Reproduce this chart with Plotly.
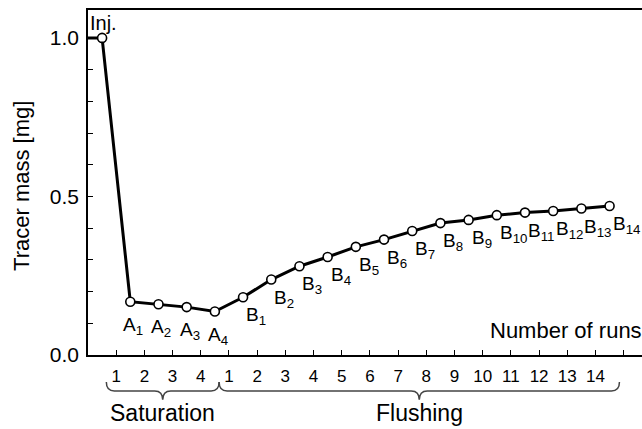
import plotly.graph_objects as go

# ---- data ----
injection_mass = 1.0
saturation_labels = ["A<sub>1</sub>", "A<sub>2</sub>", "A<sub>3</sub>", "A<sub>4</sub>"]
saturation_mass = [0.168, 0.160, 0.151, 0.137]
flushing_labels = ["B<sub>%d</sub>" % i for i in range(1, 15)]
flushing_mass = [0.182, 0.238, 0.280, 0.309, 0.341, 0.364, 0.391, 0.416,
                 0.426, 0.441, 0.449, 0.454, 0.462, 0.470]
sat_ticktext = ["1", "2", "3", "4"]
flush_ticktext = [str(i) for i in range(1, 15)]

# ---- positions on a run-index axis ----
n_sat = len(saturation_mass)
n_fl = len(flushing_mass)
x_inj = 0.5
x_sat = [i + 1.5 for i in range(n_sat)]
x_fl = [n_sat + i + 1.5 for i in range(n_fl)]
XMAX = 19.65
YMAX = 1.088

FONT = "Liberation Sans, Arial, sans-serif"

fig = go.Figure()
# connecting line (starts at the axis)
fig.add_trace(go.Scatter(
    x=[0, x_inj] + x_sat + x_fl,
    y=[injection_mass, injection_mass] + saturation_mass + flushing_mass,
    mode="lines", line=dict(color="black", width=3), hoverinfo="skip",
    showlegend=False, cliponaxis=False))
fig.add_trace(go.Scatter(
    x=[x_inj] + x_sat + x_fl,
    y=[injection_mass] + saturation_mass + flushing_mass,
    mode="markers",
    marker=dict(symbol="circle", size=9, color="white",
                line=dict(color="black", width=1.6)),
    showlegend=False, cliponaxis=False))

ann = []
ann.append(dict(x=x_inj, y=injection_mass, xref="x", yref="y", text="Inj.",
                showarrow=False, xanchor="center", yanchor="bottom",
                xshift=1, yshift=2, font=dict(size=20, color="black", family=FONT)))
for xv, yv, t in zip(x_sat, saturation_mass, saturation_labels):
    ann.append(dict(x=xv, y=yv, xref="x", yref="y", text=t, showarrow=False,
                    xanchor="center", yanchor="top", xshift=3, yshift=-10,
                    font=dict(size=19, color="black", family=FONT)))
for xv, yv, t in zip(x_fl, flushing_mass, flushing_labels):
    ann.append(dict(x=xv, y=yv, xref="x", yref="y", text=t, showarrow=False,
                    xanchor="left", yanchor="top", xshift=1, yshift=-5,
                    font=dict(size=19, color="black", family=FONT)))

ann.append(dict(x=1, y=0.076, xref="paper", yref="y", text="Number of runs",
                showarrow=False, xanchor="right", yanchor="middle", xshift=2,
                font=dict(size=22, color="black", family=FONT)))
ann.append(dict(x=0, y=0.49, xref="paper", yref="paper", text="Tracer mass [mg]",
                showarrow=False, textangle=-90, xanchor="center", yanchor="middle",
                xshift=-66, font=dict(size=22, color="black", family=FONT)))

# braces
sat_l, sat_r = 0.65, n_sat + 0.65
fl_l, fl_r = sat_r, n_sat + n_fl + 0.85
y0, y1, y2 = -0.078, -0.104, -0.130


def brace(xl, xr):
    pl, pr = xl / XMAX, xr / XMAX
    pm = (pl + pr) / 2
    r = 8 / 554
    return (f"M {pl},{y0} Q {pl},{y1} {pl + r},{y1} L {pm - r},{y1} "
            f"Q {pm},{y1} {pm},{y2} Q {pm},{y1} {pm + r},{y1} "
            f"L {pr - r},{y1} Q {pr},{y1} {pr},{y0}")


shapes = [dict(type="path", xref="paper", yref="paper", path=brace(sat_l, sat_r),
               line=dict(color="#444", width=1.5)),
          dict(type="path", xref="paper", yref="paper", path=brace(fl_l, fl_r),
               line=dict(color="#444", width=1.5))]

ann.append(dict(x=(sat_l + sat_r) / 2, y=-0.168, xref="x", yref="paper",
                text="Saturation", showarrow=False, xanchor="center",
                yanchor="middle", font=dict(size=23, color="black", family=FONT)))
ann.append(dict(x=(fl_l + fl_r) / 2, y=-0.168, xref="x", yref="paper",
                text="Flushing", showarrow=False, xanchor="center",
                yanchor="middle", font=dict(size=23, color="black", family=FONT)))

fig.update_layout(
    width=642, height=429,
    margin=dict(l=88, r=0, t=10, b=74),
    paper_bgcolor="white", plot_bgcolor="white",
    annotations=ann, shapes=shapes,
    font=dict(family=FONT, color="black"),
    xaxis=dict(range=[0, XMAX], showgrid=False, zeroline=False,
               showline=True, linecolor="black", linewidth=1.5, mirror=True,
               ticks="inside", ticklen=5, tickwidth=1.2, tickcolor="black",
               tickvals=list(range(1, n_sat + n_fl + 2)),
               ticktext=sat_ticktext + flush_ticktext + [""],
               tickfont=dict(size=17, family=FONT), ticklabelstandoff=5),
    yaxis=dict(range=[0, YMAX], showgrid=False, zeroline=False,
               showline=True, linecolor="black", linewidth=1.5,
               ticks="inside", ticklen=5, tickwidth=1.2, tickcolor="black",
               tickvals=[0, 0.5, 1.0], ticktext=["0.0", "0.5", "1.0"],
               tickfont=dict(size=21, family=FONT), ticklabelstandoff=3,
               minor=dict(dtick=0.1, ticks="inside", ticklen=5, tickwidth=1.2,
                          tickcolor="black")),
)

fig.write_html("out.html")
